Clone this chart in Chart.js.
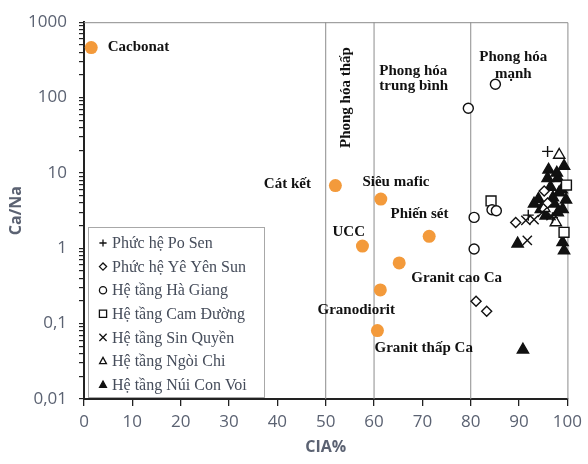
<!DOCTYPE html>
<html>
<head>
<meta charset="utf-8">
<script src="https://cdn.jsdelivr.net/npm/chart.js@4.4.0/dist/chart.umd.min.js"></script>
<style>
  html, body { margin: 0; padding: 0; background: #fff; }
  canvas { display: block; }
</style>
</head>
<body>
<canvas id="myChart" width="588" height="464"></canvas>
<script>
// reference compositions (orange dots)
const refNames = ['Cacbonat', 'Cát kết', 'Siêu mafic', 'UCC', 'Phiến sét', 'Granit cao Ca', 'Granodiorit', 'Granit thấp Ca'];
const refCIA   = [1.5, 52.0, 61.4, 57.6, 71.4, 65.2, 61.3, 60.7];
const refCaNa  = [460, 6.8, 4.5, 1.07, 1.44, 0.64, 0.28, 0.081];

// samples
const poSenCIA  = [95.9, 91.9, 96.9];
const poSenCaNa = [19.3, 2.75, 2.55];

const yeYenSunCIA  = [81.1, 83.3, 89.3, 95.2, 95.9];
const yeYenSunCaNa = [0.198, 0.146, 2.2, 5.75, 4.0];

const haGiangCIA  = [79.5, 85.1, 80.7, 80.7, 84.4, 85.3];
const haGiangCaNa = [72, 150, 2.57, 0.98, 3.25, 3.15];

const camDuongCIA  = [84.2, 99.8, 99.3];
const camDuongCaNa = [4.25, 6.9, 1.63];

const sinQuyenCIA  = [91.4, 93.1, 91.7, 96.6, 94.8];
const sinQuyenCaNa = [2.34, 2.4, 1.27, 2.7, 3.0];

const ngoiChiCIA  = [98.3, 95.2, 97.6];
const ngoiChiCaNa = [17.3, 3.4, 2.2];

const nuiConVoiCIA  = [96.1, 99.3, 98.0, 95.9, 98.3, 97.0, 99.7, 97.3, 93.1, 94.5, 99.0, 95.5, 98.0, 89.7, 99.0, 99.3, 90.8, 97.8, 96.5, 98.8, 94.0];
const nuiConVoiCaNa = [11.0, 12.3, 8.5, 8.5, 5.5, 4.7, 4.4, 3.9, 3.9, 3.3, 3.3, 2.7, 2.98, 1.15, 1.2, 0.93, 0.045, 10.0, 6.5, 6.0, 4.5];

// weathering boundaries (CIA %)
const boundaries = [50, 60, 80];

// axes
const yTickValues = [0.01, 0.1, 1, 10, 100, 1000];
const yTickLabels = ['0,01', '0,1', '1', '10', '100', '1000'];

// text notes on the plot (data coordinates)
const notes = [
  {text: 'Cacbonat', x: 4.9, y: 460},
  {text: 'Cát kết', x: 37.2, y: 7.2},
  {text: 'Siêu mafic', x: 57.6, y: 7.6},
  {text: 'UCC', x: 51.4, y: 1.64},
  {text: 'Phiến sét', x: 63.4, y: 2.83},
  {text: 'Granit cao Ca', x: 67.7, y: 0.40},
  {text: 'Granodiorit', x: 48.3, y: 0.152},
  {text: 'Granit thấp Ca', x: 60.1, y: 0.048},
  {text: 'Phong hóa', x: 61.1, y: 224},
  {text: 'trung bình', x: 61.1, y: 142},
  {text: 'Phong hóa', x: 88.8, y: 341, align: 'center'},
  {text: 'mạnh', x: 88.8, y: 204, align: 'center'},
  {text: 'Phong hóa thấp', x: 54.2, y: 100, align: 'center', rotate: true}
];

const toPoints = (xs, ys) => xs.map((x, i) => ({x: x, y: ys[i]}));

const sample = (label, xs, ys, style, radius, filled) => ({
  label: label,
  data: toPoints(xs, ys),
  pointStyle: style,
  pointRadius: radius,
  pointHoverRadius: radius,
  borderColor: '#111',
  backgroundColor: filled ? '#111' : '#fff',
  pointBorderWidth: 1.4,
  clip: false,
  order: 1
});

const datasets = [
  sample('Phức hệ Po Sen', poSenCIA, poSenCaNa, 'cross', 5.5, false),
  sample('Phức hệ Yê Yên Sun', yeYenSunCIA, yeYenSunCaNa, 'rectRot', 5, false),
  sample('Hệ tầng Hà Giang', haGiangCIA, haGiangCaNa, 'circle', 5, false),
  sample('Hệ tầng Cam Đường', camDuongCIA, camDuongCaNa, 'rect', 7, false),
  sample('Hệ tầng Sin Quyền', sinQuyenCIA, sinQuyenCaNa, 'crossRot', 6.5, false),
  sample('Hệ tầng Ngòi Chi', ngoiChiCIA, ngoiChiCaNa, 'triangle', 6.5, false),
  sample('Hệ tầng Núi Con Voi', nuiConVoiCIA, nuiConVoiCaNa, 'triangle', 6.5, true),
  {
    label: 'ref',
    data: toPoints(refCIA, refCaNa),
    pointStyle: 'circle',
    pointRadius: 6.5,
    pointHoverRadius: 6.5,
    backgroundColor: '#f39a3b',
    borderColor: '#f39a3b',
    pointBorderWidth: 0,
    clip: false,
    order: 2
  }
];

boundaries.forEach(b => {
  datasets.push({
    label: 'line',
    type: 'line',
    data: [{x: b, y: yTickValues[0]}, {x: b, y: yTickValues[yTickValues.length - 1]}],
    borderColor: '#8c8c8c',
    borderWidth: 1,
    pointRadius: 0,
    showLine: true,
    order: 10
  });
});

const legendItems = datasets.filter(d => d.label !== 'line' && d.label !== 'ref');

function shape(ctx, style, x, y, r, filled) {
  ctx.beginPath();
  if (style === 'circle') {
    ctx.arc(x, y, r, 0, Math.PI * 2);
  } else if (style === 'rect') {
    ctx.rect(x - r, y - r, 2 * r, 2 * r);
  } else if (style === 'rectRot') {
    ctx.moveTo(x - r, y); ctx.lineTo(x, y - r); ctx.lineTo(x + r, y); ctx.lineTo(x, y + r); ctx.closePath();
  } else if (style === 'triangle') {
    ctx.moveTo(x, y - r); ctx.lineTo(x + r * 0.95, y + r * 0.75); ctx.lineTo(x - r * 0.95, y + r * 0.75); ctx.closePath();
  } else if (style === 'cross') {
    ctx.moveTo(x - r, y); ctx.lineTo(x + r, y); ctx.moveTo(x, y - r); ctx.lineTo(x, y + r);
  } else if (style === 'crossRot') {
    ctx.moveTo(x - r, y - r); ctx.lineTo(x + r, y + r); ctx.moveTo(x + r, y - r); ctx.lineTo(x - r, y + r);
  }
  ctx.fillStyle = filled ? '#111' : '#fff';
  if (style !== 'cross' && style !== 'crossRot') ctx.fill();
  ctx.stroke();
}

const decorations = {
  id: 'decorations',
  beforeDatasetsDraw(chart) {
    const {ctx, chartArea: a} = chart;
    ctx.save();
    ctx.strokeStyle = '#8c8c8c';
    ctx.lineWidth = 1;
    ctx.beginPath();
    ctx.moveTo(a.left, a.top + 0.5);
    ctx.lineTo(a.right + 0.5, a.top + 0.5);
    ctx.lineTo(a.right + 0.5, a.bottom);
    ctx.stroke();
    ctx.restore();
  },
  afterDatasetsDraw(chart) {
    const {ctx, chartArea: a, scales} = chart;
    ctx.save();
    // notes
    ctx.fillStyle = '#111';
    ctx.font = 'bold 15px "Liberation Serif", "DejaVu Serif", serif';
    ctx.textBaseline = 'middle';
    notes.forEach(n => {
      const px = scales.x.getPixelForValue(n.x);
      const py = scales.y.getPixelForValue(n.y);
      ctx.textAlign = n.align || 'left';
      if (n.rotate) {
        ctx.save();
        ctx.translate(px, py);
        ctx.rotate(-Math.PI / 2);
        ctx.fillText(n.text, 0, 0);
        ctx.restore();
      } else {
        ctx.fillText(n.text, px, py);
      }
    });

    // legend box
    const bx = a.left + 4, bw = 176, bh = 170, by = a.bottom - bh - 2;
    ctx.fillStyle = '#fff';
    ctx.fillRect(bx, by, bw, bh);
    ctx.strokeStyle = '#a8a8a8';
    ctx.lineWidth = 1;
    ctx.strokeRect(bx + 0.5, by + 0.5, bw, bh);
    ctx.font = '16px "Liberation Serif", "DejaVu Serif", serif';
    ctx.textAlign = 'left';
    ctx.textBaseline = 'middle';
    legendItems.forEach((d, i) => {
      const cy = by + 16 + i * 23.6;
      ctx.strokeStyle = '#111';
      ctx.lineWidth = 1.3;
      shape(ctx, d.pointStyle, bx + 15, cy, 3.6, d.backgroundColor === '#111');
      ctx.fillStyle = '#454c5a';
      ctx.fillText(d.label, bx + 24, cy + 1);
    });
    ctx.restore();
  }
};

const tickFont = {family: '"Open Sans", "Noto Sans", sans-serif', size: 17};
const titleFont = {family: '"Open Sans", "Noto Sans", sans-serif', size: 16, weight: 'bold'};
const axisGrey = '#5b6272';

new Chart(document.getElementById('myChart').getContext('2d'), {
  type: 'scatter',
  data: {datasets: datasets},
  plugins: [decorations],
  options: {
    responsive: false,
    animation: false,
    layout: {padding: {left: 0, right: 20, top: 17, bottom: 0}},
    plugins: {
      legend: {display: false},
      tooltip: {enabled: false}
    },
    scales: {
      x: {
        type: 'linear',
        min: 0,
        max: 100,
        afterFit: s => { s.height = 65; },
        ticks: {stepSize: 10, color: axisGrey, font: tickFont, padding: 6, maxRotation: 0},
        grid: {drawOnChartArea: false, drawTicks: true, tickLength: 7, color: '#222', lineWidth: 1.3},
        border: {display: true, color: '#222', width: 2},
        title: {display: true, text: 'CIA%', color: axisGrey, font: titleFont, padding: {top: 0, bottom: 7}}
      },
      y: {
        type: 'logarithmic',
        min: yTickValues[0],
        max: yTickValues[yTickValues.length - 1],
        afterFit: s => { s.width = 84; },
        afterBuildTicks: axis => {
          const t = [];
          for (let i = 0; i < yTickValues.length; i++) {
            t.push({value: yTickValues[i]});
            if (i < yTickValues.length - 1) {
              for (let m = 2; m <= 9; m++) t.push({value: Number((yTickValues[i] * m).toPrecision(3))});
            }
          }
          axis.ticks = t;
        },
        ticks: {
          autoSkip: false,
          color: axisGrey,
          font: tickFont,
          padding: 12,
          callback: v => {
            const i = yTickValues.indexOf(v);
            return i >= 0 ? yTickLabels[i] : '';
          }
        },
        grid: {drawOnChartArea: false, drawTicks: true, tickLength: 5, color: '#222', lineWidth: 1.2},
        border: {display: true, color: '#222', width: 2},
        title: {display: true, text: 'Ca/Na', color: axisGrey, font: titleFont, padding: {top: 7, bottom: 0}}
      }
    }
  }
});
</script>
</body>
</html>
